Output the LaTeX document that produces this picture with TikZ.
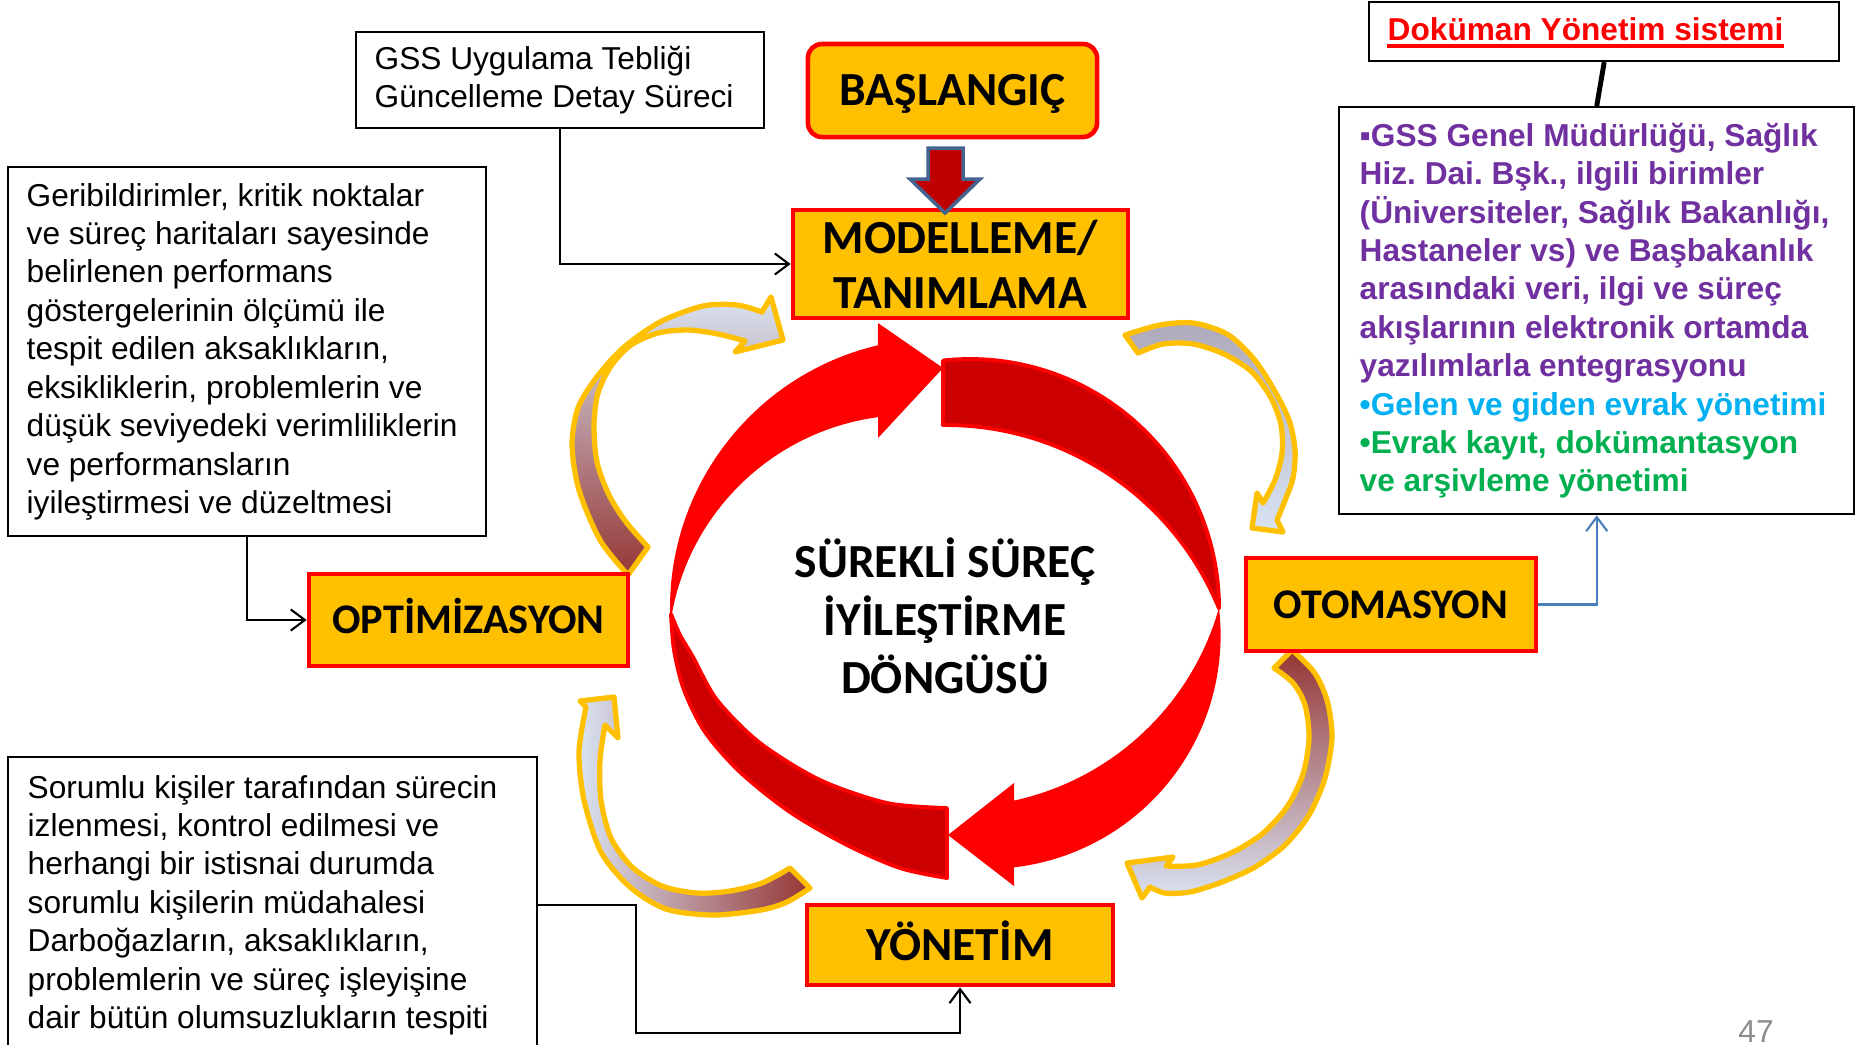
\documentclass[tikz,border=0pt]{standalone}
\usepackage{fontspec}
\setmainfont{Liberation Sans}
\newfontfamily\calibri{Carlito}
\usetikzlibrary{calc,arrows.meta}
\frenchspacing

\definecolor{labelfill}{HTML}{FFC000}
\definecolor{labelred}{HTML}{FF0000}
\definecolor{ringred}{HTML}{FF0000}
\definecolor{ringdark}{HTML}{CC0000}
\definecolor{ribbonedge}{HTML}{FFC000}
\definecolor{arrowfill}{HTML}{C00000}
\definecolor{arrowedge}{HTML}{44638F}
\definecolor{linkblue}{HTML}{4A7EBB}
\definecolor{docpurple}{HTML}{7030A0}
\definecolor{doccyan}{HTML}{00B0F0}
\definecolor{docgreen}{HTML}{00B050}
\definecolor{ribbonlight}{HTML}{D8E3F2}
\definecolor{ribbonmid}{HTML}{A08CA8}
\definecolor{ribbondark}{HTML}{953735}
\definecolor{pagegray}{HTML}{8C8C8C}

\begin{document}
\begin{tikzpicture}[x=0.01cm, y=-0.01cm,
  labelbase/.style={draw=labelred, fill=labelfill, line width=1.3pt, inner sep=0pt},
  labelbig/.style={labelbase, font=\calibri\bfseries\fontsize{13.5}{16}\selectfont,
    text height=8.7pt, text depth=0pt},
  labelsmall/.style={labelbase, font=\calibri\bfseries\fontsize{12}{14}\selectfont,
    text height=7.7pt, text depth=0pt},
  textbox/.style={draw=black, fill=white, line width=0.6pt, inner sep=0pt, anchor=north west},
  bodytext/.style={inner sep=0pt, anchor=west, align=left, font=\fontsize{9}{10.92}\selectfont},
  conn/.style={draw=black, line width=0.6pt, -{Straight Barb[length=4pt,width=6pt]}},
  ribbon/.style={draw=ribbonedge, line width=1.5pt, line join=round},
  frontcrescent/.style={fill=ringred},
  backcrescent/.style={fill=ringdark, draw=ringred, line width=1.1pt, line join=round},
]
\useasboundingbox (0,0) rectangle (1864,1044);
\clip (0,0) rectangle (1864,1044);
\fill[white] (0,0) rectangle (1864,1044);

% ---- central cycle: two dark back crescents, two bright arrow crescents ----
\path[backcrescent] ($(970,608)+(263.8:249)$) arc[start angle=263.8,end angle=360,radius=249]
  -- ($(946,720)+(337.7:295)$) arc[start angle=337.7,end angle=269.4,radius=295] -- cycle;
\path[backcrescent] plot[smooth] coordinates {(947,878) (900,868) (847,845) (790,812) (740,772) (705,732) (684,690) (674,650) (671,614)}
  -- plot[smooth] coordinates {(671,614) (680,635) (693,657) (717,700) (760,743) (820,780) (887,803) (947,808)} -- cycle;
\path[frontcrescent] ($(940,608)+(176.8:270)$) arc[start angle=176.8,end angle=256.7,radius=270]
  -- (878,323) -- (943,368) -- (878,438)
  -- ($(910,657)+(262.4:242)$) arc[start angle=262.4,end angle=188.1,radius=242] -- cycle;
\path[frontcrescent] ($(987.1,635.4)+(-6.7:233.5)$) arc[start angle=-6.7,end angle=83.4,radius=233.5]
  -- (1014,886) -- (948,835) -- (1014,783)
  -- ($(956,533.5)+(77.75:273.3)$) arc[start angle=77.75,end angle=15.8,radius=273.3] -- cycle;

\node[align=center, inner sep=0pt, font=\calibri\bfseries\fontsize{13.5}{16.5}\selectfont] (cycle) at (945,616)
  {SÜREKLİ SÜREÇ\\İYİLEŞTİRME\\DÖNGÜSÜ};

% ---- ribbon arrows between the stages ----
\path[ribbon, top color=ribbonlight, middle color=ribbonmid, bottom color=ribbondark]
  plot[smooth] coordinates {(628,575) (600,540) (579,490) (572,445) (578,408) (596,378) (623,348) (660,322) (703,306) (737,305) (762,312)}
  -- (771,297) -- (783,340) -- (735,352)
  -- plot[smooth] coordinates {(745,341) (718,334) (688,330) (658,333) (631,345) (611,366) (598,393) (594,425) (597,462) (609,495) (626,522) (648,547)}
  -- cycle;
\path[ribbon, top color=ribbonmid!55!ribbonlight!80!gray, middle color=ribbonmid!90!black, bottom color=ribbonlight]
  plot[smooth] coordinates {(1125,335) (1160,325) (1193,323) (1227,334) (1253,358) (1273,388) (1289,420) (1295,450) (1293,478) (1284,503) (1277,520)}
  -- (1283,532) -- (1252,528) -- (1257,493)
  -- plot[smooth] coordinates {(1263,503) (1275,480) (1282,453) (1281,425) (1271,398) (1252,372) (1224,354) (1193,344) (1163,344) (1138,353)}
  -- cycle;
\path[ribbon, top color=ribbondark, middle color=ribbonmid, bottom color=ribbonlight]
  plot[smooth] coordinates {(1292,650) (1314,672) (1327,700) (1332,737) (1325,778) (1309,815) (1285,845) (1255,867) (1222,882) (1190,892) (1165,893) (1150,887)}
  -- (1142,898) -- (1127,863) -- (1173,857)
  -- plot[smooth] coordinates {(1166,866) (1197,865) (1231,853) (1262,834) (1287,807) (1303,774) (1309,738) (1305,705) (1293,683) (1274,668)}
  -- cycle;
\path[ribbon, left color=ribbonlight, middle color=ribbonmid, right color=ribbondark]
  plot[smooth] coordinates {(810,888) (787,902) (761,910) (713,915) (666,909) (630,887) (601,852) (584,800) (579,752) (586,707)}
  -- (580,701) -- (614,697) -- (618,738)
  -- plot[smooth] coordinates {(605,725) (600,760) (601,800) (611,838) (632,867) (662,886) (697,893) (730,891) (762,883) (790,868)}
  -- cycle;

% ---- stage boxes ----
\node[labelbig, rounded corners=0.14cm, minimum width=2.89cm, minimum height=0.93cm] (basl) at (952.5,90.5) {BAŞLANGIÇ};
\node[labelbase, align=center, font=\calibri\bfseries\fontsize{13.5}{15.65}\selectfont,
  minimum width=3.35cm, minimum height=1.08cm] (model) at (960.5,264) {MODELLEME/\\TANIMLAMA};
\node[labelsmall, minimum width=3.19cm, minimum height=0.92cm] (opt) at (468.5,620) {OPTİMİZASYON};
\node[labelsmall, minimum width=2.90cm, minimum height=0.93cm] (oto) at (1391,604.5) {OTOMASYON};
\node[labelbig, minimum width=3.06cm, minimum height=0.80cm] (yon) at (960,945) {YÖNETİM};

% block arrow from the start box into the modelling box
\path[fill=arrowfill, draw=arrowedge, line width=1pt, line join=miter]
  (928,148) -- (963,148) -- (963,179) -- (980,179) -- (945,213) -- (910,179) -- (928,179) -- cycle;

% ---- explanation boxes ----
\node[textbox, minimum width=4.08cm, minimum height=0.96cm] (gss) at (355,31) {};
\node[bodytext] (gsstext) at ($(gss.west)+(19,0)$) {GSS Uygulama Tebliği\\Güncelleme Detay Süreci};

\node[textbox, minimum width=4.78cm, minimum height=3.69cm] (fb) at (7,166) {};
\node[bodytext] (fbtext) at ($(fb.west)+(19,0)$) {Geribildirimler, kritik noktalar\\ve süreç haritaları sayesinde\\belirlenen performans\\göstergelerinin ölçümü ile\\tespit edilen aksaklıkların,\\eksikliklerin, problemlerin ve\\düşük seviyedeki verimliliklerin\\ve performansların\\iyileştirmesi ve düzeltmesi};

\node[textbox, minimum width=5.29cm, minimum height=2.96cm] (mon) at (7,756) {};
\node[bodytext] (montext) at ($(mon.west)+(20,0)$) {Sorumlu kişiler tarafından sürecin\\izlenmesi, kontrol edilmesi ve\\herhangi bir istisnai durumda\\sorumlu kişilerin müdahalesi\\Darboğazların, aksaklıkların,\\problemlerin ve süreç işleyişine\\dair bütün olumsuzlukların tespiti};

\node[textbox, minimum width=5.15cm, minimum height=4.07cm] (doc) at (1338,106) {};
\node[bodytext, text=docpurple, font=\bfseries\fontsize{9}{10.92}\selectfont] (doctext) at ($(doc.west)+(21,0)$)
  {▪GSS Genel Müdürlüğü, Sağlık\\Hiz. Dai. Bşk., ilgili birimler\\(Üniversiteler, Sağlık Bakanlığı,\\Hastaneler vs) ve Başbakanlık\\arasındaki veri, ilgi ve süreç\\akışlarının elektronik ortamda\\yazılımlarla entegrasyonu\\\color{doccyan}•Gelen ve giden evrak yönetimi\\\color{docgreen}•Evrak kayıt, dokümantasyon\\\color{docgreen}ve arşivleme yönetimi};

\node[textbox, minimum width=4.70cm, minimum height=0.59cm] (dokbox) at (1368,1) {};
\node[inner sep=0pt, anchor=base west, text=labelred, font=\bfseries\fontsize{9}{10.92}\selectfont] (doktext) at (1387,40) {Doküman Yönetim sistemi};
\draw[labelred, line width=1.1pt] ([yshift=-1.6pt]doktext.base west) -- ([yshift=-1.6pt]doktext.base east);

% ---- connectors ----
\draw[conn] (gss.south) |- (model.west);
\draw[conn] (fb.south) |- (opt.west);
\draw[conn] (mon.east) -- ++(98,0) |- ($(yon.south)+(0,46)$) -- (yon.south);
\draw[conn, draw=linkblue] (oto.east) -| (doc.south);
\draw[line width=1.4pt] (dokbox.south) -- (doc.north);

\node[inner sep=0pt, anchor=base, text=pagegray, font=\fontsize{9}{11}\selectfont] (pagenum) at (1756,1042) {47};
\end{tikzpicture}
\end{document}
